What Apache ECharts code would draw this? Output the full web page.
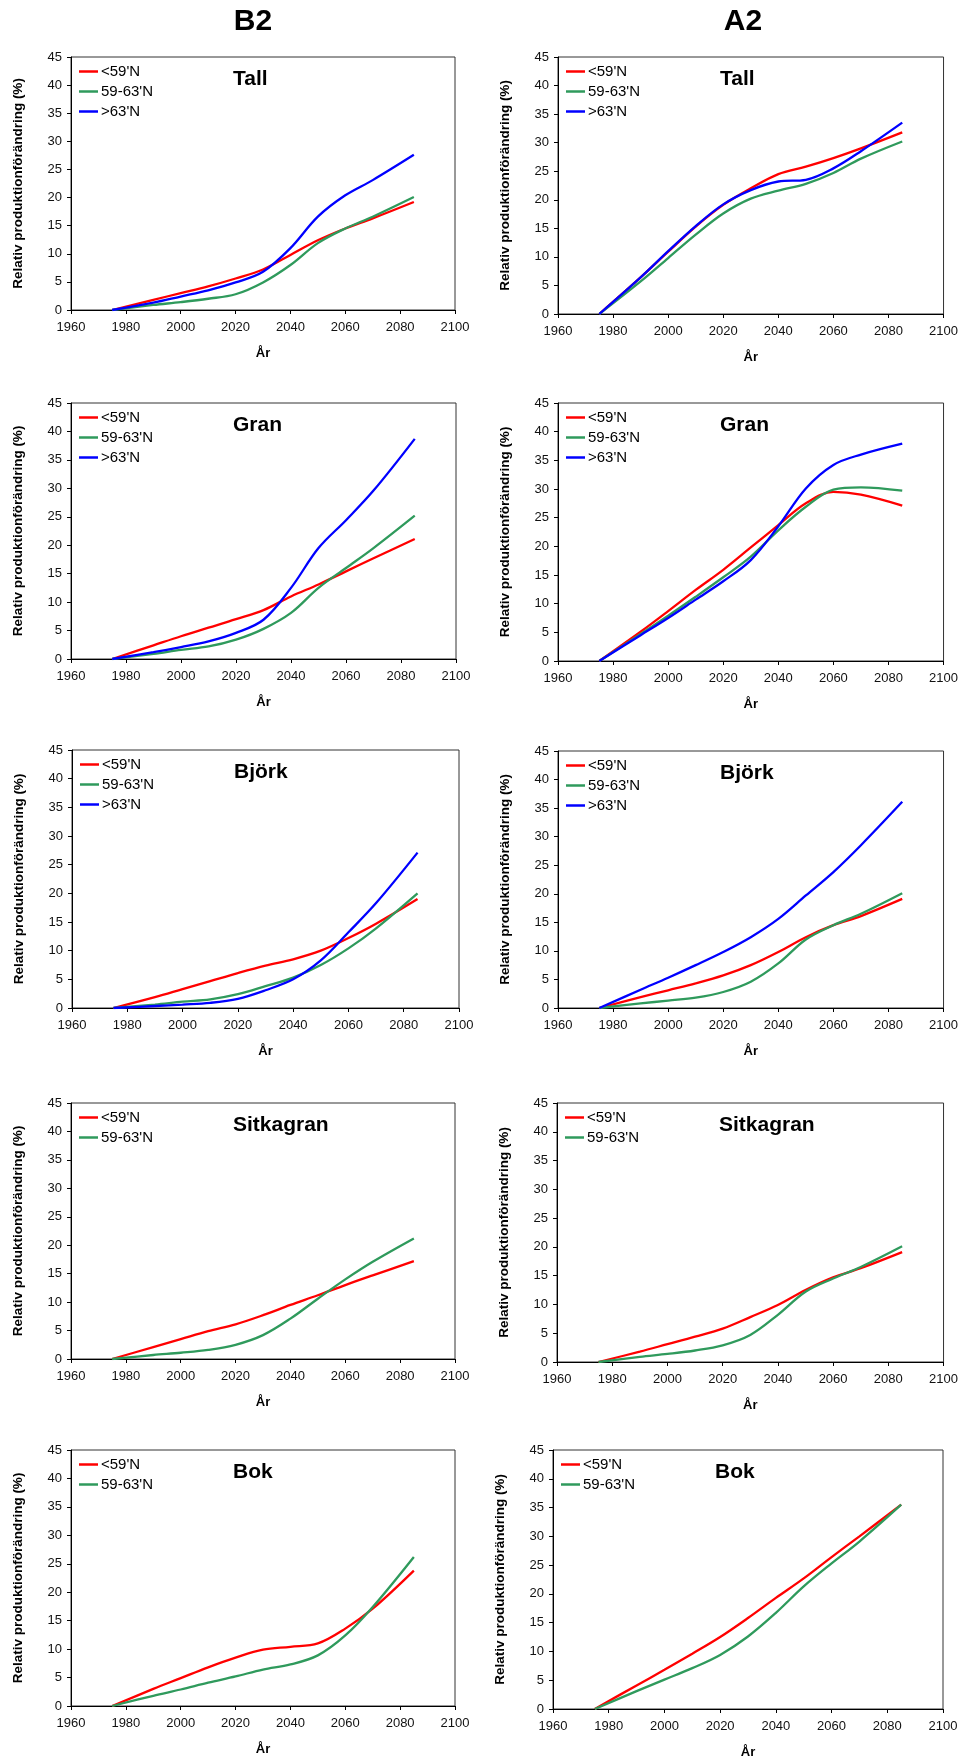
<!DOCTYPE html>
<html>
<head>
<meta charset="utf-8">
<title>Relativ produktionförändring</title>
<script src="https://cdn.jsdelivr.net/npm/echarts@6/dist/echarts.min.js"></script>
<style>
  body { margin: 0; background: #fff; }
  #chart { width: 961px; height: 1764px; }
</style>
</head>
<body>
<div id="chart"></div>
<script>
  // x values shared by every panel
  var years = [1975, 1990, 2000, 2010, 2020, 2030, 2040, 2050, 2060, 2070, 2085];
  var regionNames = ["<59'N", "59-63'N", ">63'N"];
  var regionColors = ['#ff0000', '#2f9a5c', '#0000ff'];
  var scenarioTitles = ['B2', 'A2'];
  var speciesTitles = ['Tall', 'Gran', 'Björk', 'Sitkagran', 'Bok'];
  var xAxisName = 'År';
  var yAxisName = 'Relativ produktionförändring (%)';

  // B2
  var b2TallSouth = [0, 1.8, 3.0, 4.2, 5.6, 7.2, 9.8, 12.4, 14.5, 16.3, 19.2];
  var b2TallMid = [0, 0.9, 1.4, 2.0, 2.8, 4.9, 8.0, 11.9, 14.5, 16.6, 20.1];
  var b2TallNorth = [0, 1.3, 2.4, 3.5, 4.9, 6.8, 11.0, 16.6, 20.4, 23.1, 27.6];

  var b2GranSouth = [0, 2.4, 4.0, 5.5, 7.0, 8.6, 11.0, 13.1, 15.4, 17.7, 21.1];
  var b2GranMid = [0, 0.9, 1.6, 2.2, 3.4, 5.3, 8.1, 12.5, 16.0, 19.5, 25.2];
  var b2GranNorth = [0, 1.2, 2.1, 3.1, 4.6, 6.9, 12.5, 19.5, 24.4, 29.6, 38.7];

  var b2BjorkSouth = [0, 1.9, 3.3, 4.7, 6.1, 7.4, 8.5, 10.0, 12.2, 14.7, 19.0];
  var b2BjorkMid = [0, 0.6, 1.1, 1.5, 2.4, 3.8, 5.3, 7.5, 10.4, 13.9, 20.0];
  var b2BjorkNorth = [0, 0.35, 0.6, 0.9, 1.6, 3.1, 5.0, 8.3, 13.2, 18.3, 27.1];

  var b2SitkaSouth = [0, 2.1, 3.5, 4.9, 6.1, 7.7, 9.5, 11.2, 13.0, 14.7, 17.2];
  var b2SitkaMid = [0, 0.7, 1.1, 1.6, 2.5, 4.2, 7.1, 10.6, 14.0, 17.1, 21.2];

  var b2BokSouth = [0, 3.0, 4.9, 6.8, 8.5, 9.9, 10.4, 11.0, 13.6, 17.1, 23.8];
  var b2BokMid = [0, 1.8, 2.9, 4.1, 5.2, 6.4, 7.3, 8.9, 12.4, 17.4, 26.2];

  // A2
  var a2TallSouth = [0, 6.4, 10.9, 15.3, 19.1, 22.0, 24.5, 25.8, 27.3, 29.0, 31.8];
  var a2TallMid = [0, 5.7, 9.8, 13.9, 17.6, 20.2, 21.6, 22.8, 24.7, 27.2, 30.2];
  var a2TallNorth = [0, 6.4, 11.0, 15.4, 19.2, 21.7, 23.2, 23.5, 25.5, 28.5, 33.5];

  var a2GranSouth = [0, 5.1, 8.7, 12.4, 15.9, 19.8, 23.7, 27.5, 29.5, 29.0, 27.1];
  var a2GranMid = [0, 4.7, 7.9, 11.2, 14.6, 18.2, 22.8, 26.9, 29.9, 30.3, 29.7];
  var a2GranNorth = [0, 4.5, 7.5, 10.7, 13.9, 17.6, 23.5, 30.1, 34.2, 36.0, 37.9];

  var a2BjorkSouth = [0, 1.9, 3.1, 4.3, 5.7, 7.5, 9.8, 12.4, 14.5, 16.1, 19.1];
  var a2BjorkMid = [0, 0.8, 1.3, 1.8, 2.8, 4.6, 7.8, 12.0, 14.5, 16.5, 20.1];
  var a2BjorkNorth = [0, 3.2, 5.3, 7.5, 9.8, 12.4, 15.6, 19.7, 23.8, 28.5, 36.1];

  var a2SitkaSouth = [0, 1.8, 3.1, 4.4, 5.8, 7.8, 9.9, 12.5, 14.7, 16.3, 19.1];
  var a2SitkaMid = [0, 0.9, 1.4, 2.0, 2.9, 4.7, 8.2, 12.2, 14.5, 16.5, 20.1];

  var a2BokSouth = [0, 4.1, 6.8, 9.6, 12.5, 15.8, 19.3, 22.7, 26.4, 30.0, 35.5];
  var a2BokMid = [0, 3.1, 5.1, 7.1, 9.4, 12.6, 16.7, 21.3, 25.3, 29.1, 35.5];

  // rows = species, columns = scenario (B2, A2)
  var panelData = [
    [[b2TallSouth, b2TallMid, b2TallNorth], [a2TallSouth, a2TallMid, a2TallNorth]],
    [[b2GranSouth, b2GranMid, b2GranNorth], [a2GranSouth, a2GranMid, a2GranNorth]],
    [[b2BjorkSouth, b2BjorkMid, b2BjorkNorth], [a2BjorkSouth, a2BjorkMid, a2BjorkNorth]],
    [[b2SitkaSouth, b2SitkaMid], [a2SitkaSouth, a2SitkaMid]],
    [[b2BokSouth, b2BokMid], [a2BokSouth, a2BokMid]]
  ];

  // plot boxes [left, top, width, height] in px
  var boxes = [
    [[71, 57, 384, 253], [558, 57, 386, 257]],
    [[71, 403, 385, 256], [558, 403, 386, 258]],
    [[72, 750, 387, 258], [558, 751, 386, 257]],
    [[71, 1103, 384, 256], [557, 1103, 388, 259]],
    [[71, 1450, 384, 256], [553, 1450, 390, 259]]
  ];

  var font = "'Liberation Sans', Arial, sans-serif";
  var chart = echarts.init(document.getElementById('chart'));

  var option = {
    animation: false,
    backgroundColor: '#fff',
    title: [
      { text: scenarioTitles[0], left: 253, top: 7, textAlign: 'center', padding: 0,
        textStyle: { fontFamily: font, fontSize: 30, fontWeight: 'bold', color: '#000' } },
      { text: scenarioTitles[1], left: 743, top: 7, textAlign: 'center', padding: 0,
        textStyle: { fontFamily: font, fontSize: 30, fontWeight: 'bold', color: '#000' } }
    ],
    legend: [],
    grid: [],
    xAxis: [],
    yAxis: [],
    series: []
  };

  var k = 0;
  for (var r = 0; r < panelData.length; r++) {
    for (var c = 0; c < 2; c++) {
      var b = boxes[r][c];
      var lines = panelData[r][c];

      option.grid.push({
        left: b[0], top: b[1], width: b[2], height: b[3],
        show: true, borderColor: '#333', borderWidth: 1, backgroundColor: 'transparent'
      });

      option.title.push({
        text: speciesTitles[r], left: b[0] + 162, top: b[1] + 12, padding: 0,
        textStyle: { fontFamily: font, fontSize: 21, fontWeight: 'bold', color: '#000' }
      });

      option.legend.push({
        orient: 'vertical', left: b[0] + 8, top: b[1] + 7, padding: 0,
        itemGap: 5, itemWidth: 19, itemHeight: 2.5, icon: 'rect',
        selectedMode: false,
        data: regionNames.slice(0, lines.length),
        textStyle: { fontFamily: font, fontSize: 15, color: '#000', padding: [0, 0, 0, -2] }
      });

      option.xAxis.push({
        type: 'value', gridIndex: k, min: 1960, max: 2100, interval: 20,
        name: xAxisName, nameLocation: 'middle', nameGap: 37,
        nameTextStyle: { fontFamily: font, fontSize: 13, fontWeight: 'bold', color: '#000' },
        axisLine: { lineStyle: { color: '#000', width: 1 } },
        axisTick: { show: true, length: 4, lineStyle: { color: '#000' } },
        axisLabel: { fontFamily: font, fontSize: 13, color: '#111', margin: 11,
          formatter: function (v) { return String(v); } },
        splitLine: { show: false }
      });

      option.yAxis.push({
        type: 'value', gridIndex: k, min: 0, max: 45, interval: 5,
        name: yAxisName, nameLocation: 'middle', nameRotate: 90, nameGap: 46,
        nameTextStyle: { fontFamily: font, fontSize: 13.5, fontWeight: 'bold', color: '#000' },
        axisLine: { show: true, lineStyle: { color: '#000', width: 1 } },
        axisTick: { show: true, length: 4, lineStyle: { color: '#000' } },
        axisLabel: { fontFamily: font, fontSize: 13, color: '#111', margin: 9 },
        splitLine: { show: false }
      });

      for (var s = 0; s < lines.length; s++) {
        var arr = lines[s];
        option.series.push({
          name: regionNames[s],
          type: 'line',
          xAxisIndex: k,
          yAxisIndex: k,
          symbol: 'none',
          smooth: 0.35,
          color: regionColors[s],
          lineStyle: { width: 2.3, color: regionColors[s] },
          data: years.map(function (yr, i) { return [yr, arr[i]]; })
        });
      }
      k++;
    }
  }

  chart.setOption(option);
</script>
</body>
</html>
